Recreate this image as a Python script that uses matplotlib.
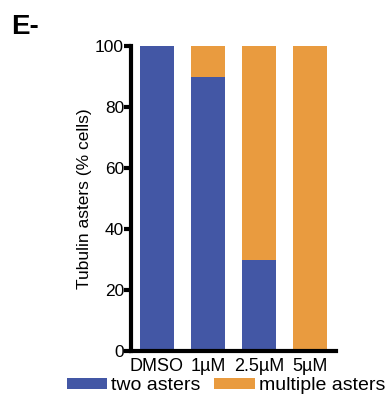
import matplotlib
matplotlib.use('Agg')
import matplotlib.pyplot as plt

# Dados
categorias = ['DMSO', '1\u00b5M', '2.5\u00b5M', '5\u00b5M']
dois_asters = [100, 90, 30, 0]
multiplos_asters = [0, 10, 70, 100]

azul = '#4357A5'
laranja = '#E99B3F'

plt.rcParams['font.family'] = ['Liberation Sans', 'DejaVu Sans']

fig = plt.figure(figsize=(3.91, 4.05), dpi=100)
ax = fig.add_axes([0.335, 0.1333, 0.524, 0.7531])

x = range(len(categorias))
b1 = ax.bar(x, dois_asters, width=0.66, color=azul, label='two asters')
b2 = ax.bar(x, multiplos_asters, width=0.66, bottom=dois_asters, color=laranja,
            label='multiple asters')

ax.set_xlim(-0.51, 3.51)
ax.set_ylim(0, 100)
ax.set_yticks([0, 20, 40, 60, 80, 100])
ax.set_xticks(list(x))
ax.set_xticklabels(categorias)

for s in ['top', 'right']:
    ax.spines[s].set_visible(False)
for s in ['left', 'bottom']:
    ax.spines[s].set_linewidth(3)
    ax.spines[s].set_capstyle('projecting')
ax.tick_params(axis='y', length=5, width=3, labelsize=12.5, pad=0)
ax.tick_params(axis='x', length=0, labelsize=13, pad=5)
ax.set_ylabel('Tubulin asters (% cells)', fontsize=12.5, labelpad=2)

fig.text(0.028, 0.965, 'E-', fontsize=20, fontweight='bold', va='top')

fig.legend(handles=[b1, b2], loc='center', bbox_to_anchor=(0.578, 0.048), ncol=2,
           frameon=False, fontsize=14, handlelength=2.1, handleheight=0.5,
           handletextpad=0.2, columnspacing=0.7, borderpad=0, borderaxespad=0)

fig.savefig('out.png', dpi=100)
